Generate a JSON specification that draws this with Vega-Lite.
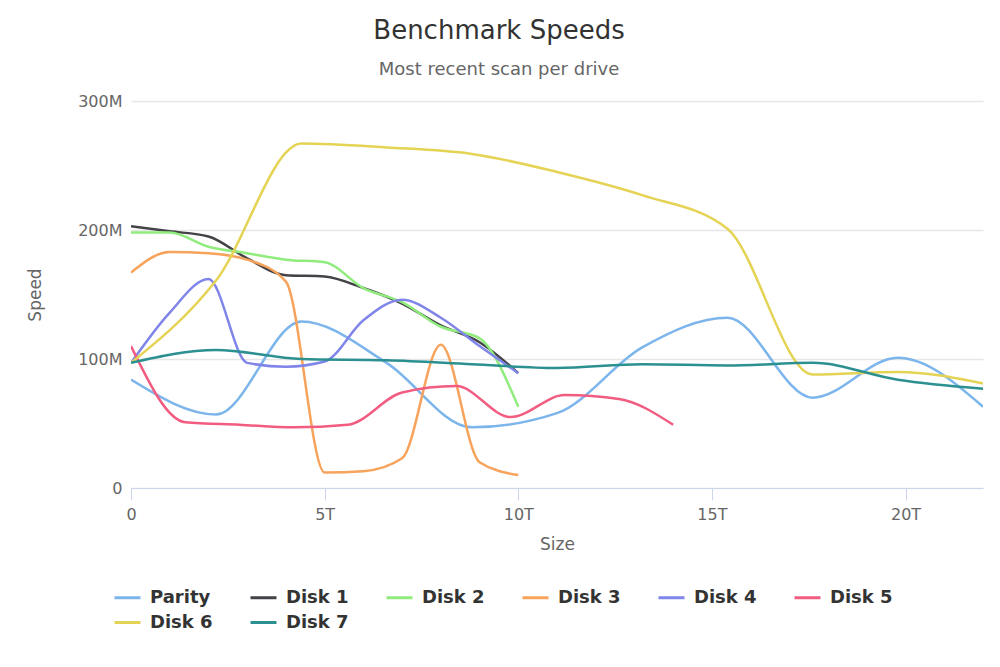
{
  "$schema": "https://vega.github.io/schema/vega-lite/v6.json",
  "width": 852,
  "height": 387,
  "autosize": {"type": "none"},
  "padding": {"left": 131, "top": 101, "right": 17, "bottom": 179},
  "background": "white",
  "config": {
    "font": "DejaVu Sans",
    "view": {"stroke": null}
  },
  "title": {
    "text": "Benchmark Speeds",
    "subtitle": "Most recent scan per drive",
    "anchor": "middle",
    "frame": "group",
    "dx": -58,
    "offset": 14,
    "fontSize": 26,
    "fontWeight": "normal",
    "color": "#333333",
    "subtitleFontSize": 18,
    "subtitleColor": "#666666",
    "subtitlePadding": 17
  },
  "data": {
    "values": [
      {"drive": "Parity", "size": 0, "speed": 84},
      {"drive": "Parity", "size": 2.2, "speed": 57},
      {"drive": "Parity", "size": 4.4, "speed": 129},
      {"drive": "Parity", "size": 6.6, "speed": 97},
      {"drive": "Parity", "size": 8.8, "speed": 47},
      {"drive": "Parity", "size": 11, "speed": 58},
      {"drive": "Parity", "size": 13.2, "speed": 109},
      {"drive": "Parity", "size": 15.4, "speed": 132},
      {"drive": "Parity", "size": 17.6, "speed": 70},
      {"drive": "Parity", "size": 19.8, "speed": 101},
      {"drive": "Parity", "size": 22, "speed": 63},
      {"drive": "Disk 1", "size": 0, "speed": 203},
      {"drive": "Disk 1", "size": 1, "speed": 199},
      {"drive": "Disk 1", "size": 2, "speed": 195},
      {"drive": "Disk 1", "size": 3, "speed": 178},
      {"drive": "Disk 1", "size": 4, "speed": 165},
      {"drive": "Disk 1", "size": 5, "speed": 164},
      {"drive": "Disk 1", "size": 6, "speed": 155},
      {"drive": "Disk 1", "size": 7, "speed": 143},
      {"drive": "Disk 1", "size": 8, "speed": 126},
      {"drive": "Disk 1", "size": 9, "speed": 113},
      {"drive": "Disk 1", "size": 10, "speed": 89},
      {"drive": "Disk 2", "size": 0, "speed": 198},
      {"drive": "Disk 2", "size": 1, "speed": 198},
      {"drive": "Disk 2", "size": 2, "speed": 187},
      {"drive": "Disk 2", "size": 3, "speed": 182},
      {"drive": "Disk 2", "size": 4, "speed": 177},
      {"drive": "Disk 2", "size": 5, "speed": 175},
      {"drive": "Disk 2", "size": 6, "speed": 155},
      {"drive": "Disk 2", "size": 7, "speed": 144},
      {"drive": "Disk 2", "size": 8, "speed": 125},
      {"drive": "Disk 2", "size": 9, "speed": 116},
      {"drive": "Disk 2", "size": 10, "speed": 63},
      {"drive": "Disk 3", "size": 0, "speed": 167},
      {"drive": "Disk 3", "size": 1, "speed": 183},
      {"drive": "Disk 3", "size": 2, "speed": 182},
      {"drive": "Disk 3", "size": 3, "speed": 177},
      {"drive": "Disk 3", "size": 4, "speed": 160},
      {"drive": "Disk 3", "size": 5, "speed": 12},
      {"drive": "Disk 3", "size": 6, "speed": 13},
      {"drive": "Disk 3", "size": 7, "speed": 23},
      {"drive": "Disk 3", "size": 8, "speed": 111},
      {"drive": "Disk 3", "size": 9, "speed": 20},
      {"drive": "Disk 3", "size": 10, "speed": 10},
      {"drive": "Disk 4", "size": 0, "speed": 97},
      {"drive": "Disk 4", "size": 1, "speed": 136},
      {"drive": "Disk 4", "size": 2, "speed": 162},
      {"drive": "Disk 4", "size": 3, "speed": 97},
      {"drive": "Disk 4", "size": 4, "speed": 94},
      {"drive": "Disk 4", "size": 5, "speed": 98},
      {"drive": "Disk 4", "size": 6, "speed": 130},
      {"drive": "Disk 4", "size": 7, "speed": 146},
      {"drive": "Disk 4", "size": 8, "speed": 132},
      {"drive": "Disk 4", "size": 9, "speed": 110},
      {"drive": "Disk 4", "size": 10, "speed": 89},
      {"drive": "Disk 5", "size": 0, "speed": 110},
      {"drive": "Disk 5", "size": 1.4, "speed": 51},
      {"drive": "Disk 5", "size": 2.8, "speed": 49},
      {"drive": "Disk 5", "size": 4.2, "speed": 47},
      {"drive": "Disk 5", "size": 5.6, "speed": 49},
      {"drive": "Disk 5", "size": 7, "speed": 74},
      {"drive": "Disk 5", "size": 8.4, "speed": 79},
      {"drive": "Disk 5", "size": 9.8, "speed": 55},
      {"drive": "Disk 5", "size": 11.2, "speed": 72},
      {"drive": "Disk 5", "size": 12.6, "speed": 69},
      {"drive": "Disk 5", "size": 14, "speed": 49},
      {"drive": "Disk 6", "size": 0, "speed": 97},
      {"drive": "Disk 6", "size": 2.2, "speed": 161},
      {"drive": "Disk 6", "size": 4.4, "speed": 267},
      {"drive": "Disk 6", "size": 6.6, "speed": 264},
      {"drive": "Disk 6", "size": 8.8, "speed": 259},
      {"drive": "Disk 6", "size": 11, "speed": 245},
      {"drive": "Disk 6", "size": 13.2, "speed": 227},
      {"drive": "Disk 6", "size": 15.4, "speed": 201},
      {"drive": "Disk 6", "size": 17.6, "speed": 88},
      {"drive": "Disk 6", "size": 19.8, "speed": 90},
      {"drive": "Disk 6", "size": 22, "speed": 81},
      {"drive": "Disk 7", "size": 0, "speed": 97},
      {"drive": "Disk 7", "size": 2.2, "speed": 107},
      {"drive": "Disk 7", "size": 4.4, "speed": 100},
      {"drive": "Disk 7", "size": 6.6, "speed": 99},
      {"drive": "Disk 7", "size": 8.8, "speed": 96},
      {"drive": "Disk 7", "size": 11, "speed": 93},
      {"drive": "Disk 7", "size": 13.2, "speed": 96},
      {"drive": "Disk 7", "size": 15.4, "speed": 95},
      {"drive": "Disk 7", "size": 17.6, "speed": 97},
      {"drive": "Disk 7", "size": 19.8, "speed": 84},
      {"drive": "Disk 7", "size": 22, "speed": 77}
    ]
  },
  "mark": {"type": "line", "interpolate": "monotone", "strokeWidth": 2.5, "clip": true},
  "encoding": {
    "x": {
      "field": "size",
      "type": "quantitative",
      "title": "Size",
      "scale": {"domain": [0, 22], "nice": false, "zero": true},
      "axis": {
        "values": [0, 5, 10, 15, 20],
        "labelExpr": "datum.value == 0 ? '0' : datum.value + 'T'",
        "labelFlush": false,
        "grid": false,
        "domainColor": "#ccd6eb",
        "tickColor": "#ccd6eb",
        "tickSize": 12,
        "labelFontSize": 16,
        "labelColor": "#666666",
        "labelPadding": 6,
        "titleFontSize": 17,
        "titleFontWeight": "normal",
        "titleColor": "#666666",
        "titlePadding": 14
      }
    },
    "y": {
      "field": "speed",
      "type": "quantitative",
      "title": "Speed",
      "scale": {"domain": [0, 300], "nice": false},
      "axis": {
        "values": [0, 100, 200, 300],
        "labelExpr": "datum.value == 0 ? '0' : datum.value + 'M'",
        "domain": false,
        "ticks": false,
        "gridColor": "#e6e6e6",
        "gridWidth": 1.5,
        "labelFontSize": 16,
        "labelColor": "#666666",
        "labelPadding": 9,
        "titleFontSize": 17,
        "titleFontWeight": "normal",
        "titleColor": "#666666",
        "titlePadding": 33
      }
    },
    "color": {
      "field": "drive",
      "type": "nominal",
      "sort": null,
      "scale": {
        "domain": ["Parity", "Disk 1", "Disk 2", "Disk 3", "Disk 4", "Disk 5", "Disk 6", "Disk 7"],
        "range": ["#7cb5ec", "#434348", "#90ed7d", "#f7a35c", "#8085e9", "#f15c80", "#e4d354", "#2b908f"]
      },
      "legend": {
        "title": null,
        "orient": "none",
        "legendX": -18,
        "legendY": 482,
        "direction": "horizontal",
        "columns": 6,
        "columnPadding": 31,
        "rowPadding": 1,
        "symbolType": "stroke",
        "symbolSize": 676,
        "symbolStrokeWidth": 3,
        "labelFontSize": 18,
        "labelFontWeight": "bold",
        "labelColor": "#333333",
        "labelOffset": 8
      }
    }
  }
}
